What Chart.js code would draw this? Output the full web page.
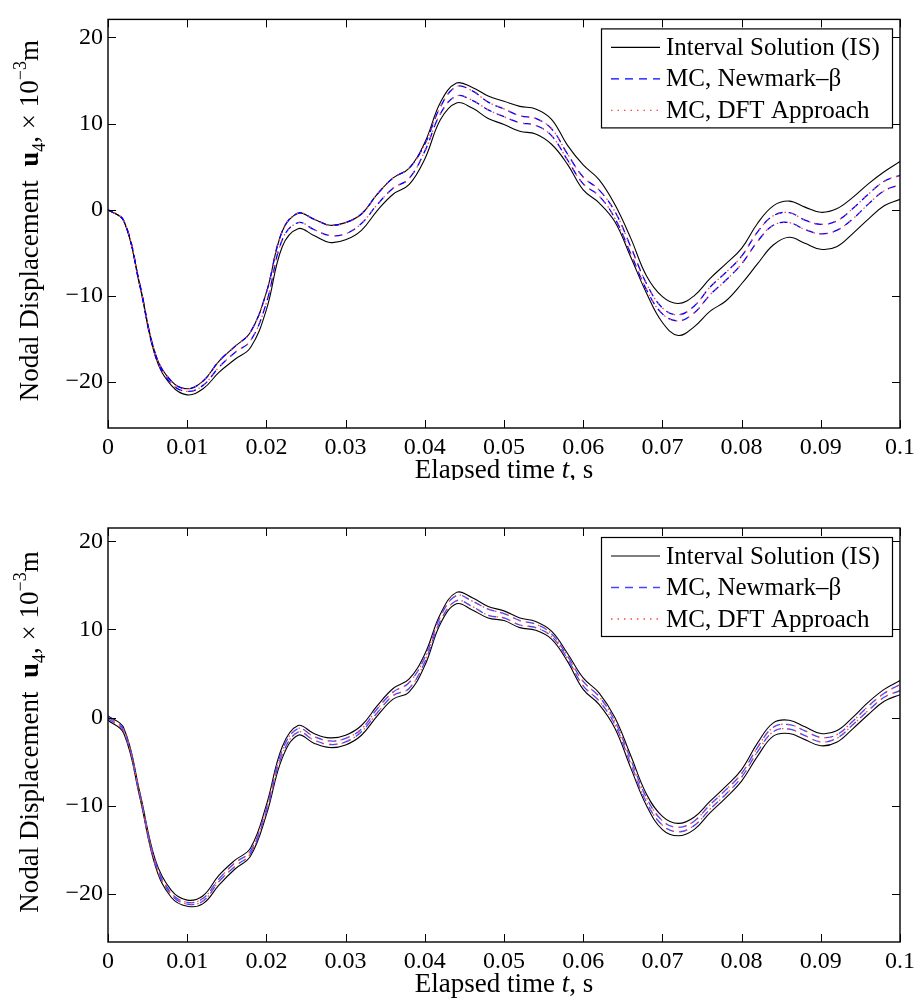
<!DOCTYPE html>
<html>
<head>
<meta charset="utf-8">
<script src="https://cdn.jsdelivr.net/npm/chart.js@4/dist/chart.umd.min.js"></script>
<style>
  body { margin: 0; background: #fff; }
  #wrap { position: relative; width: 920px; height: 1006px; background: #fff; }
  canvas { position: absolute; left: 0; }
</style>
</head>
<body>
<div id="wrap">
  <canvas id="topChart" width="920" height="480" style="top:0px"></canvas>
  <canvas id="bottomChart" width="920" height="526" style="top:480px"></canvas>
</div>
<script>
// time grid, 0 .. 0.1 s every 2 ms
const timeS = Array.from({ length: 51 }, (_, i) => +(i * 0.002).toFixed(3));
const xTicks = [0, 0.01, 0.02, 0.03, 0.04, 0.05, 0.06, 0.07, 0.08, 0.09, 0.1];
const xTickLabels = ["0", "0.01", "0.02", "0.03", "0.04", "0.05", "0.06", "0.07", "0.08", "0.09", "0.1"];
const yTicks = [-20, -10, 0, 10, 20];

// top panel (wide interval)
const isUpperTop = [0, -1.3, -8.6, -16.8, -19.9, -20.8, -19.9, -17.6, -15.9, -14.2, -9.6, -2.5, -0.4, -1.1, -1.8, -1.5, -0.5, 1.8, 3.7, 4.8, 7.8, 12.5, 14.7, 14.2, 13.2, 12.6, 12.0, 11.7, 10.5, 7.5, 5.2, 3.5, 0.6, -3.3, -7.7, -10.1, -10.9, -10.0, -8.0, -6.3, -4.5, -1.6, 0.45, 1.0, 0.3, -0.3, 0.1, 1.4, 3.0, 4.4, 5.6];
const isLowerTop = [0, -1.3, -8.8, -17.1, -20.4, -21.5, -20.8, -18.9, -17.4, -16.0, -11.6, -4.3, -2.2, -3.0, -3.8, -3.5, -2.4, -0.1, 1.8, 2.9, 5.9, 10.5, 12.4, 11.8, 10.6, 9.9, 9.1, 8.8, 7.6, 5.3, 2.3, 0.8, -1.4, -5.5, -9.7, -13.1, -14.6, -13.6, -11.8, -10.6, -8.6, -6.3, -4.1, -3.2, -3.9, -4.6, -4.3, -2.8, -1.1, 0.45, 1.2];
const mcUpperTop = [0, -1.3, -8.6, -16.8, -19.9, -20.8, -19.9, -17.6, -15.9, -14.2, -9.6, -2.5, -0.4, -1.1, -1.8, -1.5, -0.5, 1.8, 3.7, 4.8, 7.6, 12.0, 14.3, 13.8, 12.5, 11.7, 10.9, 10.6, 9.4, 6.5, 3.8, 2.3, -0.2, -4.3, -8.6, -11.4, -12.2, -11.2, -9.0, -7.3, -5.4, -2.6, -0.7, -0.35, -1.2, -1.7, -1.3, 0.1, 1.8, 3.3, 4.0];
const mcLowerTop = [0, -1.3, -8.7, -17.0, -20.2, -21.1, -20.4, -18.3, -16.6, -15.2, -10.8, -3.5, -1.5, -2.3, -3.0, -2.8, -1.6, 0.6, 2.5, 3.6, 6.8, 11.2, 13.2, 12.7, 11.6, 10.8, 10.1, 9.8, 8.6, 5.8, 3.0, 1.6, -1.0, -5.1, -9.3, -12.1, -12.9, -12.0, -9.9, -8.2, -6.3, -3.7, -1.8, -1.5, -2.3, -2.8, -2.4, -1.1, 0.65, 2.2, 2.9];

// bottom panel (narrow interval)
const isUpperBottom = [0.2, -1.2, -8.4, -16.2, -19.6, -20.7, -20.2, -17.9, -16.2, -14.8, -9.9, -3.3, -0.9, -1.8, -2.3, -2.0, -0.9, 1.35, 3.3, 4.35, 7.2, 11.8, 14.2, 13.6, 12.6, 12.1, 11.3, 10.9, 9.8, 7.3, 4.5, 2.8, 0.0, -4.3, -8.7, -11.2, -12.0, -11.3, -9.5, -7.8, -5.9, -2.9, -0.6, -0.3, -1.05, -1.8, -1.5, 0.0, 1.75, 3.2, 4.2];
const isLowerBottom = [-0.3, -1.8, -9.0, -16.9, -20.4, -21.4, -21.1, -19.0, -17.2, -15.7, -11.0, -4.6, -2.0, -2.9, -3.4, -3.1, -2.0, 0.2, 2.1, 2.9, 5.9, 10.7, 12.9, 12.2, 11.3, 11.0, 10.2, 9.9, 8.9, 6.4, 3.2, 1.5, -1.2, -5.7, -10.0, -12.7, -13.4, -12.7, -10.8, -9.1, -7.2, -4.4, -2.1, -1.8, -2.5, -3.2, -2.8, -1.3, 0.35, 1.85, 2.6];
const mcUpperBottom = [0.1, -1.4, -8.6, -16.4, -19.9, -20.95, -20.5, -18.3, -16.5, -15.1, -10.3, -3.7, -1.25, -2.15, -2.65, -2.35, -1.3, 1.0, 2.9, 3.95, 6.8, 11.5, 13.85, 13.2, 12.3, 11.8, 11.0, 10.6, 9.5, 7.0, 4.1, 2.4, -0.4, -4.75, -9.1, -11.7, -12.45, -11.75, -9.9, -8.2, -6.35, -3.4, -1.1, -0.8, -1.5, -2.25, -1.95, -0.45, 1.3, 2.75, 3.75];
const mcLowerBottom = [-0.1, -1.6, -8.8, -16.7, -20.1, -21.15, -20.8, -18.6, -16.9, -15.4, -10.6, -4.2, -1.65, -2.55, -3.05, -2.75, -1.6, 0.55, 2.5, 3.3, 6.3, 11.0, 13.25, 12.6, 11.6, 11.3, 10.5, 10.2, 9.2, 6.7, 3.6, 1.9, -0.8, -5.25, -9.6, -12.2, -12.95, -12.25, -10.4, -8.7, -6.75, -3.9, -1.6, -1.3, -2.05, -2.75, -2.35, -0.85, 0.8, 2.3, 3.05];

const serif = "'Liberation Serif', 'Times New Roman', Times, serif";

function toPoints(values) {
  return timeS.map((t, i) => ({ x: t, y: values[i] }));
}

function makeDatasets(isUp, isLo, mcUp, mcLo, blue) {
  const solid = { borderColor: "#000", borderWidth: 1.1, order: 3 };
  const dashed = { borderColor: blue, borderWidth: 1.3, borderDash: [8, 6], order: 2 };
  const dotted = { borderColor: "rgb(255, 70, 70)", borderWidth: 1.3, borderDash: [1.5, 5], order: 1 };
  return [
    { ...solid, data: toPoints(isUp), legendText: "Interval Solution (IS)" },
    { ...solid, data: toPoints(isLo) },
    { ...dashed, data: toPoints(mcUp), legendText: "MC, Newmark\u2013\u03b2" },
    { ...dashed, data: toPoints(mcLo) },
    // DFT results sit on top of the Newmark ones
    { ...dotted, data: toPoints(mcUp), legendText: "MC, DFT Approach" },
    { ...dotted, data: toPoints(mcLo) },
  ];
}

function drawPieces(ctx, pieces, x, y) {
  pieces.forEach((p) => {
    ctx.font = p.font;
    ctx.fillText(p.text, x, y + (p.dy || 0));
    x += ctx.measureText(p.text).width;
  });
}

function piecesWidth(ctx, pieces) {
  return pieces.reduce((w, p) => {
    ctx.font = p.font;
    return w + ctx.measureText(p.text).width;
  }, 0);
}

const framePlugin = {
  id: "frame",
  afterDraw(chart) {
    const { ctx, chartArea: a, scales } = chart;
    ctx.save();
    ctx.strokeStyle = "#000";
    ctx.lineWidth = 1;
    ctx.beginPath();
    scales.x.ticks.forEach((t) => {
      const px = Math.round(scales.x.getPixelForValue(t.value)) + 0.5;
      ctx.moveTo(px, a.bottom);
      ctx.lineTo(px, a.bottom - 8);
      ctx.moveTo(px, a.top);
      ctx.lineTo(px, a.top + 8);
    });
    scales.y.ticks.forEach((t) => {
      const py = Math.round(scales.y.getPixelForValue(t.value)) + 0.5;
      ctx.moveTo(a.left, py);
      ctx.lineTo(a.left + 8, py);
      ctx.moveTo(a.right, py);
      ctx.lineTo(a.right - 8, py);
    });
    ctx.stroke();
    ctx.lineWidth = 1.4;
    ctx.strokeRect(a.left, a.top, a.right - a.left, a.bottom - a.top);

    // axis titles
    ctx.fillStyle = "#000";
    ctx.textBaseline = "alphabetic";
    const xTitle = [
      { text: "Elapsed time ", font: "27px " + serif },
      { text: "t", font: "italic 27px " + serif },
      { text: ", s", font: "27px " + serif },
    ];
    const cx = (a.left + a.right) / 2;
    drawPieces(ctx, xTitle, cx - piecesWidth(ctx, xTitle) / 2, a.bottom + 50);

    const yTitle = [
      { text: "Nodal Displacement  ", font: "27px " + serif },
      { text: "u", font: "bold 27px " + serif },
      { text: "4", font: "18px " + serif, dy: 7 },
      { text: ", \u00d7 10", font: "27px " + serif },
      { text: "\u22123", font: "18px " + serif, dy: -12 },
      { text: "m", font: "27px " + serif },
    ];
    ctx.translate(38, (a.top + a.bottom) / 2 - 3);
    ctx.rotate(-Math.PI / 2);
    drawPieces(ctx, yTitle, -piecesWidth(ctx, yTitle) / 2, 0);
    ctx.restore();
  },
};

const legendPlugin = {
  id: "boxLegend",
  afterDraw(chart) {
    const { ctx, chartArea: a } = chart;
    const entries = chart.data.datasets.filter((ds) => ds.legendText);
    const boxW = 291, boxH = 99;
    const left = a.right - 8 - boxW;
    const top = a.top + 9;
    ctx.save();
    ctx.fillStyle = "#fff";
    ctx.fillRect(left, top, boxW, boxH);
    ctx.strokeStyle = "#000";
    ctx.lineWidth = 1.2;
    ctx.strokeRect(left + 0.5, top + 0.5, boxW, boxH);
    entries.forEach((ds, i) => {
      const y = top + 19 + i * 31.5;
      ctx.beginPath();
      ctx.strokeStyle = ds.borderColor;
      ctx.lineWidth = ds.borderWidth;
      ctx.setLineDash(ds.borderDash || []);
      ctx.moveTo(left + 10, y);
      ctx.lineTo(left + 59, y);
      ctx.stroke();
      ctx.setLineDash([]);
      ctx.fillStyle = "#000";
      ctx.font = "25px " + serif;
      ctx.textBaseline = "middle";
      ctx.fillText(ds.legendText, left + 65, y + 1);
    });
    ctx.restore();
  },
};

function buildChart(canvasId, datasets, yMin, yMax, padTop, xHeight) {
  const ctx = document.getElementById(canvasId).getContext("2d");
  return new Chart(ctx, {
    type: "line",
    data: { datasets },
    options: {
      responsive: false,
      animation: false,
      devicePixelRatio: 1,
      layout: { padding: { left: 0, right: 17, top: padTop, bottom: 0 } },
      elements: {
        point: { radius: 0 },
        line: { tension: 0.4, fill: false },
      },
      plugins: { legend: { display: false }, tooltip: { enabled: false } },
      scales: {
        x: {
          type: "linear",
          min: 0,
          max: 0.1,
          grid: { display: false, drawTicks: false },
          border: { display: false },
          afterBuildTicks: (scale) => {
            scale.ticks = xTicks.map((v) => ({ value: v }));
          },
          afterFit: (scale) => {
            scale.height = xHeight;
          },
          ticks: {
            autoSkip: false,
            maxRotation: 0,
            padding: 5,
            color: "#000",
            font: { family: serif, size: 24 },
            callback: (value, index) => xTickLabels[index],
          },
        },
        y: {
          min: yMin,
          max: yMax,
          grid: { display: false, drawTicks: false },
          border: { display: false },
          afterBuildTicks: (scale) => {
            scale.ticks = yTicks.map((v) => ({ value: v }));
          },
          afterFit: (scale) => {
            scale.width = 108;
          },
          ticks: {
            padding: 5,
            color: "#000",
            font: { family: serif, size: 24 },
            callback: (value) => String(value).replace("-", "\u2212"),
          },
        },
      },
    },
    plugins: [framePlugin, legendPlugin],
  });
}

document.addEventListener("DOMContentLoaded", () => {
  buildChart("topChart",
    makeDatasets(isUpperTop, isLowerTop, mcUpperTop, mcLowerTop, "#0000ff"),
    -25.35, 22.1, 11, 52);
  buildChart("bottomChart",
    makeDatasets(isUpperBottom, isLowerBottom, mcUpperBottom, mcLowerBottom, "rgb(70, 70, 255)"),
    -25.45, 21.5, 48, 64);
});
</script>
</body>
</html>
